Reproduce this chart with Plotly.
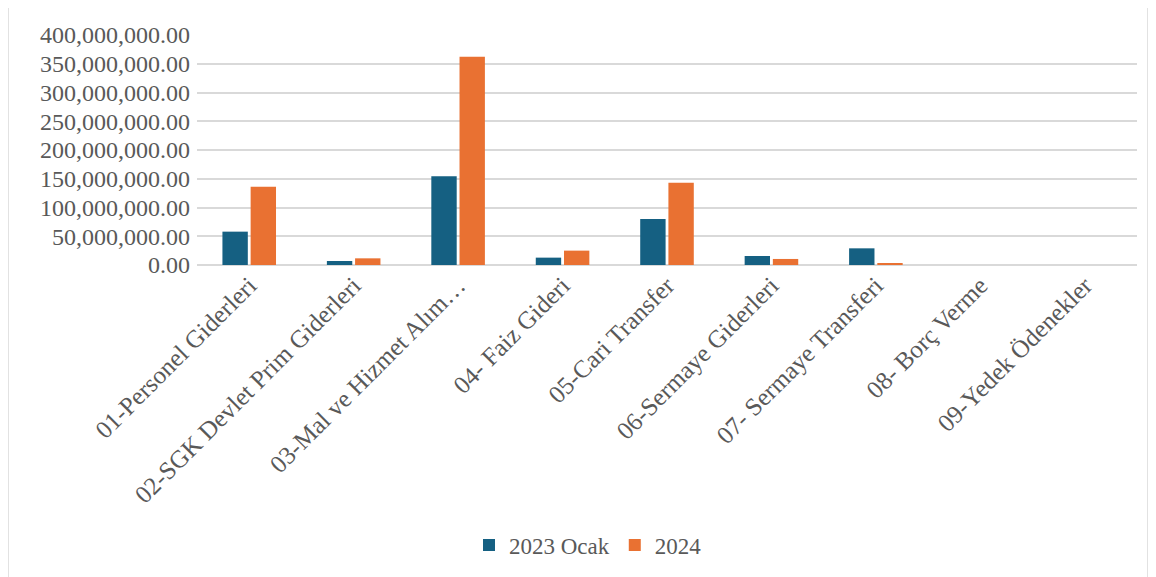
import plotly.graph_objects as go

categories = [
    "01-Personel Giderleri",
    "02-SGK Devlet Prim Giderleri",
    "03-Mal ve Hizmet Alım…",
    "04- Faiz Gideri",
    "05-Cari Transfer",
    "06-Sermaye Giderleri",
    "07- Sermaye Transferi",
    "08- Borç Verme",
    "09-Yedek Ödenekler",
]
series_names = ["2023 Ocak", "2024"]
values_2023 = [58_000_000, 7_000_000, 154_500_000, 12_800_000, 80_000_000, 15_700_000, 29_000_000, 0, 0]
values_2024 = [136_000_000, 11_600_000, 362_000_000, 25_000_000, 143_000_000, 10_500_000, 3_500_000, 0, 0]
y_ticks = [0, 50_000_000, 100_000_000, 150_000_000, 200_000_000, 250_000_000, 300_000_000, 350_000_000, 400_000_000]
colors = ["#156082", "#E97132"]

W, H = 1156, 577
OFF = 8  # page offset of the figure
L, T = 197 - OFF, 35 - OFF
plot_right, plot_bottom = 1137 - OFF, 265 - OFF
R, B = W - plot_right, H - plot_bottom
pw, ph = plot_right - L, plot_bottom - T

fig = go.Figure()
for name, vals, col in zip(series_names, [values_2023, values_2024], colors):
    fig.add_trace(go.Bar(
        x=categories, y=vals, name=name,
        marker=dict(color=col, line=dict(width=0)),
    ))

font = "Liberation Serif"
fig.update_layout(
    width=W, height=H,
    margin=dict(l=L, r=R, t=T, b=B, autoexpand=False),
    paper_bgcolor="white", plot_bgcolor="white",
    barmode="group", bargap=0.46, bargroupgap=0.1,
    font=dict(family=font, color="#595959", size=24),
    showlegend=True,
    legend=dict(orientation="h", x=(588 - OFF) / W, xanchor="center",
                y=1 - (545 - OFF) / H, yanchor="middle", yref="container", xref="container",
                font=dict(family=font, size=23, color="#595959"),
                itemwidth=30, traceorder="normal"),
    xaxis=dict(tickangle=-45, showgrid=False, showline=False, ticks="",
               tickfont=dict(family=font, size=25, color="#595959")),
    yaxis=dict(range=[0, 400_000_000], tickvals=y_ticks, tickformat=",.2f",
               showgrid=True, gridcolor="#d9d9d9", gridwidth=1.5, zeroline=True,
               zerolinecolor="#d9d9d9", zerolinewidth=1.5, ticks="",
               tickfont=dict(family=font, size=24, color="#595959"), ticklabelstandoff=6),
)

# chart-area border
x0 = (8 - OFF - L) / pw
x1 = (1148 - OFF - L) / pw
y1 = (plot_bottom - (6 - OFF)) / ph
y0 = (plot_bottom - (582 - OFF)) / ph
fig.add_shape(type="rect", xref="paper", yref="paper", x0=x0, x1=x1, y0=y0, y1=y1,
              line=dict(color="#d9d9d9", width=1.5), fillcolor="rgba(0,0,0,0)", layer="below")

fig.write_html("out.html")
